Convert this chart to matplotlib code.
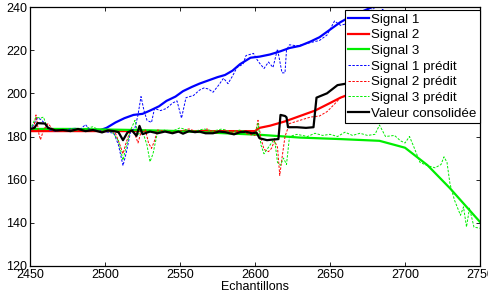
import matplotlib
matplotlib.use('Agg')
import matplotlib.pyplot as plt

plt.rcParams['font.family'] = ['Liberation Sans', 'DejaVu Sans']

# Signal 1 (blue)
s1_x = [2450, 2460, 2470, 2480, 2490, 2497, 2501, 2507, 2513, 2519, 2525, 2530, 2536, 2541, 2547,
        2552, 2558, 2563, 2569, 2575, 2580, 2585, 2590, 2597, 2603, 2610, 2617, 2623, 2630, 2637,
        2643, 2650, 2657, 2665, 2675, 2685, 2700, 2750]
s1_y = [183, 183.5, 183, 183.5, 183, 183, 184, 186.5, 188.5, 190, 190.5, 192, 194, 196.5, 198.5,
        201, 203, 204.5, 206, 207.5, 208.5, 210.5, 213.5, 216.5, 217, 218, 219.5, 221, 222, 224,
        226, 229.5, 233, 236, 239, 242, 246, 258]

# Signal 2 (red)
s2_x = [2450, 2500, 2550, 2600, 2603, 2610, 2620, 2630, 2640, 2650, 2657, 2670, 2690, 2710, 2730, 2750]
s2_y = [182.5, 182.5, 182.5, 182.5, 184, 185, 187, 189.5, 192, 195.5, 198, 201.5, 207, 213, 220, 228]

# Signal 3 (green)
s3_x = [2450, 2480, 2520, 2550, 2580, 2603, 2630, 2657, 2683, 2700, 2715, 2730, 2750]
s3_y = [183.5, 183.5, 183, 182.5, 181.5, 180.8, 179.5, 178.8, 178, 174.8, 166.7, 156, 140.4]

# Signal 1 predit
s1p_x = [2450, 2452, 2455, 2457, 2460, 2463, 2467, 2472, 2478, 2483, 2487, 2490, 2493, 2498, 2502,
         2506, 2509, 2512, 2514, 2517, 2520, 2522, 2524, 2526, 2528, 2531, 2533, 2537, 2541, 2545,
         2548, 2551, 2554, 2559, 2563, 2566, 2569, 2572, 2576, 2579, 2582, 2585, 2588, 2592, 2594,
         2599, 2601, 2603, 2606, 2609, 2612, 2615, 2618, 2620, 2621, 2623, 2628, 2634, 2643, 2648,
         2653, 2657, 2665, 2672, 2679, 2682, 2685, 2688, 2700, 2750]
s1p_y = [183, 185, 188.5, 188, 186, 183, 182.5, 183, 183.5, 183, 185.5, 183, 183, 182.5, 182,
         181.5, 176, 166.5, 172, 182, 184, 190, 198.5, 192, 187.5, 186.5, 193, 192, 193, 195.5,
         196.5, 188.5, 198, 199, 201.5, 202.5, 202, 200.5, 204, 207, 204.5, 208, 212, 213.5, 217.5,
         218.5, 216, 214, 211.5, 214.5, 212, 220.5, 209.5, 209.5, 220, 222.5, 222, 223, 224.5, 227,
         233.5, 231.5, 233, 236, 239, 243, 238.5, 242, 242, 255]

# Signal 2 predit
s2p_x = [2450, 2452, 2454, 2456, 2457, 2459, 2462, 2465, 2470, 2478, 2485, 2492, 2498, 2503, 2507,
         2510, 2512, 2514, 2517, 2520, 2522, 2524, 2527, 2529, 2531, 2533, 2535, 2540, 2545, 2550,
         2556, 2562, 2568, 2574, 2580, 2586, 2592, 2596, 2600, 2602, 2604, 2606, 2609, 2611, 2613,
         2615, 2616.5, 2618, 2620, 2623, 2630, 2637, 2643, 2648, 2653, 2657, 2665, 2680, 2700, 2750]
s2p_y = [183, 182, 190, 181, 178.5, 183, 186, 183.5, 182.5, 183, 182.5, 183, 182, 183, 181.5,
         176, 172, 177, 183, 181, 177, 182, 183, 177, 174.5, 178, 183, 182.5, 182, 182.5,
         183.5, 182, 183.5, 181.5, 183, 181.5, 182, 181, 180.5, 187.5, 179, 174, 173, 174.5, 178,
         175, 162, 170, 180, 186, 187.5, 189, 189.5, 191.5, 195, 198, 200, 203, 209, 226]

# Signal 3 predit
s3p_x = [2450, 2452, 2454, 2457, 2459, 2461, 2464, 2470, 2478, 2485, 2492, 2496, 2500, 2505, 2509,
         2512, 2514, 2517, 2520, 2522, 2525, 2528, 2530, 2532, 2535, 2540, 2545, 2550, 2555, 2560,
         2566, 2572, 2578, 2584, 2590, 2596, 2600, 2602, 2604, 2606, 2609, 2611, 2613, 2615, 2617,
         2619, 2621, 2623, 2628, 2635, 2640, 2645, 2650, 2655, 2660, 2665, 2670, 2675, 2680, 2683,
         2687, 2693, 2697, 2700, 2703, 2706, 2710, 2715, 2720, 2724, 2726, 2728, 2730, 2733, 2737,
         2739, 2741, 2743, 2746, 2750]
s3p_y = [183, 186, 189, 188.5, 189, 185, 183, 183.5, 182.5, 183.5, 184.5, 183, 182.5, 182, 178,
         169, 175, 183, 187.5, 181, 182.5, 176, 168.3, 172, 182, 183, 182.5, 184, 183, 182.5,
         183.5, 182.5, 183.5, 182, 183, 182, 181, 186, 176, 172, 175, 177, 179, 168, 166.7,
         170, 167, 180, 181, 180, 181.5, 180.5, 181, 180, 182, 180.5, 181.5, 180.5, 181, 185.3,
         180, 180.5, 178, 177, 180, 175, 168, 166.5, 165.5, 167, 170.6, 168, 158, 150.5, 143.5,
         147.4, 138.1, 146.8, 138, 137.5]

# Valeur consolidee
cons_x = [2450, 2453, 2455, 2460, 2462, 2467, 2472, 2477, 2482, 2487, 2492, 2498, 2502, 2506, 2509,
          2512, 2515, 2518, 2521, 2523, 2525, 2530, 2535, 2540, 2545, 2549, 2552, 2556, 2560, 2563,
          2567, 2572, 2576, 2580, 2586, 2590, 2594, 2598, 2601, 2603, 2608, 2612, 2615.6, 2617, 2620,
          2621, 2622, 2628, 2634, 2639, 2641, 2648, 2655, 2665, 2680, 2700, 2750]
cons_y = [183.5, 184, 186.2, 186, 184, 182.8, 183, 182.5, 183.5, 182.5, 183, 181.9, 182.8, 182.5, 182,
          178.3, 181.9, 182.8, 180.3, 184.9, 181.1, 182.3, 181.5, 182.3, 181.5, 182.3, 181.3, 182.5, 182, 182.3,
          181.5, 181.5, 182.3, 182, 181, 182, 182.2, 181.5, 181.8, 179.2, 178.3, 178.6, 178.8, 190, 189.5,
          188.9, 184.3, 184.3, 184, 184.3, 198, 200, 203.8, 205, 207, 211, 225]

labels = ['Signal 1', 'Signal 2', 'Signal 3', 'Signal 1 prédit', 'Signal 2 prédit',
          'Signal 3 prédit', 'Valeur consolidée']

fig = plt.figure(figsize=(4.89, 2.99), dpi=100)
ax = fig.add_axes([30 / 489, 1 - 266 / 299, 450 / 489, 259 / 299])

dash = (0, (2.5, 1.5))
ax.plot(s1_x, s1_y, color='#0000ff', lw=1.6, label=labels[0])
ax.plot(s2_x, s2_y, color='#ff0000', lw=1.6, label=labels[1])
ax.plot(s3_x, s3_y, color='#00ee00', lw=1.6, label=labels[2])
ax.plot(s1p_x, s1p_y, color='#0000ff', lw=0.7, ls=dash, label=labels[3])
ax.plot(s2p_x, s2p_y, color='#ff0000', lw=0.7, ls=dash, label=labels[4])
ax.plot(s3p_x, s3p_y, color='#00ee00', lw=0.7, ls=dash, label=labels[5])
ax.plot(cons_x, cons_y, color='black', lw=1.6, label=labels[6])

ax.set_xlim(2450, 2750)
ax.set_ylim(120, 240)
ax.set_xticks([2450, 2500, 2550, 2600, 2650, 2700, 2750])
ax.set_yticks([120, 140, 160, 180, 200, 220, 240])
ax.tick_params(direction='in', top=True, right=True, length=3, width=0.6,
               labelsize=9, pad=2)
for sp in ax.spines.values():
    sp.set_linewidth(0.9)

ax.set_xlabel('Echantillons', fontsize=9, labelpad=0)
ax.set_ylabel('Valeurs', fontsize=9)
ax.yaxis.set_label_coords(-0.06, 0.5)

leg = ax.legend(loc='upper right', bbox_to_anchor=(1.0, 0.988), fontsize=9.6,
                labelspacing=0.25, handlelength=1.55, handletextpad=0.2, borderpad=0.25,
                borderaxespad=0, fancybox=False, framealpha=1, edgecolor='black')
leg.get_frame().set_linewidth(0.8)

fig.savefig('out.png', dpi=100)
